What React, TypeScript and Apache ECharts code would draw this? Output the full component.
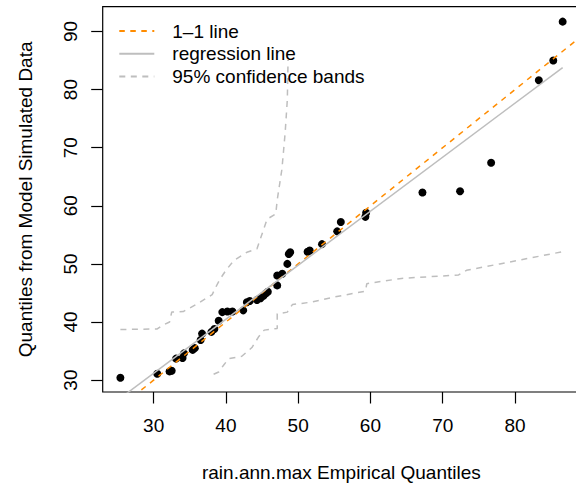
import React, { useEffect, useRef } from "react";
import * as echarts from "echarts";

// Empirical quantiles (x) vs quantiles from model-simulated data (y)
const empiricalQ = [25.4, 30.5, 32.2, 32.5, 33.1, 34.0, 34.2, 35.4, 35.7, 36.5, 36.7, 38.0, 38.4, 39.0, 39.5, 40.2, 40.9, 42.4, 42.9, 43.3, 44.3, 44.8, 45.2, 45.5, 45.8, 47.1, 47.1, 47.8, 48.5, 48.7, 48.9, 51.3, 51.6, 53.3, 55.4, 55.9, 59.3, 59.4, 67.2, 72.4, 76.7, 83.3, 85.3, 86.6];
const simulatedQ = [30.4, 31.1, 31.5, 31.6, 33.7, 33.8, 34.6, 35.2, 35.5, 36.9, 38.0, 38.3, 38.8, 40.2, 41.7, 41.8, 41.8, 42.0, 43.4, 43.6, 43.8, 44.1, 44.5, 44.9, 45.2, 46.3, 48.0, 48.3, 50.0, 51.7, 52.0, 52.1, 52.3, 53.4, 55.6, 57.2, 58.1, 58.8, 62.3, 62.5, 67.4, 81.6, 85.0, 91.7];

const xTicks = [30, 40, 50, 60, 70, 80];
const yTicks = [30, 40, 50, 60, 70, 80, 90];

const identityEnds = [20, 100];
const regressionX = [25.4, 86.6];
const regressionY = [26.9, 83.8];

const upperX = [25.4, 30.5, 31.2, 32.2, 32.5, 34.1, 36.0, 38.1, 38.6, 39.2, 40.0, 41.1, 42.9, 44.3, 45.7, 46.9, 47.1, 47.75, 48.2, 48.5, 48.6];
const upperY = [38.7, 38.8, 39.4, 40.0, 41.7, 41.8, 43.1, 44.7, 46.0, 47.4, 48.9, 50.6, 52.0, 52.6, 57.7, 58.6, 61.0, 66.3, 72.6, 78.3, 85.1];

const lowerX = [38.3, 39.0, 39.7, 40.4, 42.2, 43.6, 44.5, 45.3, 47.1, 47.1, 48.5, 49.2, 51.7, 54.6, 59.3, 59.5, 64.3, 72.2, 73.3, 77.9, 86.6];
const lowerY = [31.0, 31.4, 32.6, 33.7, 34.1, 35.6, 37.4, 38.6, 38.9, 41.4, 41.7, 43.0, 43.4, 44.2, 45.3, 46.6, 47.5, 48.1, 48.9, 50.0, 52.1];

const FONT = "'Liberation Sans', Arial, Helvetica, sans-serif";
const FS = 19;

export default function App() {
  const ref = useRef<HTMLDivElement>(null);

  useEffect(() => {
    if (!ref.current) return;
    const chart = echarts.init(ref.current, null, { renderer: "svg" });
    const pts = empiricalQ.map((x, i) => [x, simulatedQ[i]]);
    const option = {
      animation: false,
      backgroundColor: "#ffffff",
      textStyle: { fontFamily: FONT, color: "#000" },
      grid: {
        left: 102.7,
        right: 20,
        top: 6.7,
        bottom: 487 - 393.3,
        show: true,
        borderColor: "#000",
        borderWidth: 1.2,
        backgroundColor: "transparent",
      },
      legend: {
        show: true,
        orient: "vertical",
        left: 113.3,
        top: 16.5,
        itemWidth: 35,
        itemHeight: 10,
        itemGap: 3.8,
        selectedMode: false,
        data: ["1–1 line", "regression line", "95% confidence bands"],
        itemStyle: { color: "transparent", borderColor: "transparent", borderWidth: 0, opacity: 0 },
        textStyle: {
          fontFamily: FONT,
          fontSize: FS,
          color: "#000",
          lineHeight: 19,
          padding: [0, 0, 0, 13],
        },
      },
      xAxis: {
        type: "value",
        min: 22.95,
        max: 89.0,
        name: "rain.ann.max Empirical Quantiles",
        nameLocation: "middle",
        nameGap: 71,
        nameTextStyle: { fontFamily: FONT, fontSize: FS, color: "#000" },
        axisLine: { show: false },
        splitLine: { show: false },
        axisTick: {
          show: true,
          inside: false,
          length: 11.5,
          customValues: xTicks,
          lineStyle: { color: "#000", width: 1.2 },
        },
        axisLabel: {
          customValues: xTicks,
          margin: 24,
          fontFamily: FONT,
          fontSize: FS,
          color: "#000",
        },
      },
      yAxis: {
        type: "value",
        min: 27.95,
        max: 94.27,
        name: "Quantiles from Model Simulated Data",
        nameLocation: "middle",
        nameGap: 68,
        nameTextStyle: { fontFamily: FONT, fontSize: FS, color: "#000" },
        axisLine: { show: false },
        splitLine: { show: false },
        axisTick: {
          show: true,
          inside: false,
          length: 11.5,
          customValues: yTicks,
          lineStyle: { color: "#000", width: 1.2 },
        },
        axisLabel: {
          customValues: yTicks,
          rotate: 90,
          margin: 23,
          fontFamily: FONT,
          fontSize: FS,
          color: "#000",
        },
      },
      series: [
        {
          type: "scatter",
          data: pts,
          symbol: "circle",
          symbolSize: 8,
          itemStyle: { color: "#000", opacity: 1 },
          z: 2,
        },
        {
          name: "1–1 line",
          type: "line",
          data: identityEnds.map((v) => [v, v]),
          symbol: "none",
          clip: true,
          itemStyle: { color: "#FF8C00" },
          lineStyle: { color: "#FF8C00", width: 1.5, type: [5.5, 5.5] },
          z: 3,
        },
        {
          name: "regression line",
          type: "line",
          data: regressionX.map((x, i) => [x, regressionY[i]]),
          symbol: "none",
          clip: true,
          itemStyle: { color: "#BEBEBE" },
          lineStyle: { color: "#BEBEBE", width: 1.5, type: "solid" },
          z: 3,
        },
        {
          name: "95% confidence bands",
          type: "line",
          data: upperX.map((x, i) => [x, upperY[i]]),
          symbol: "none",
          clip: true,
          itemStyle: { color: "#BEBEBE" },
          lineStyle: { color: "#BEBEBE", width: 1.5, type: [6, 5.5] },
          z: 3,
        },
        {
          name: "95% confidence bands",
          type: "line",
          data: lowerX.map((x, i) => [x, lowerY[i]]),
          symbol: "none",
          clip: true,
          itemStyle: { color: "#BEBEBE" },
          lineStyle: { color: "#BEBEBE", width: 1.5, type: [6, 5.5] },
          z: 3,
        },
      ],
    };
    chart.setOption(option as any);
    return () => chart.dispose();
  }, []);

  return (
    <div
      style={{
        position: "absolute",
        left: 0,
        top: 0,
        width: 576,
        height: 487,
        overflow: "hidden",
        background: "#fff",
      }}
    >
      <div ref={ref} style={{ width: 600, height: 487 }} />
    </div>
  );
}
